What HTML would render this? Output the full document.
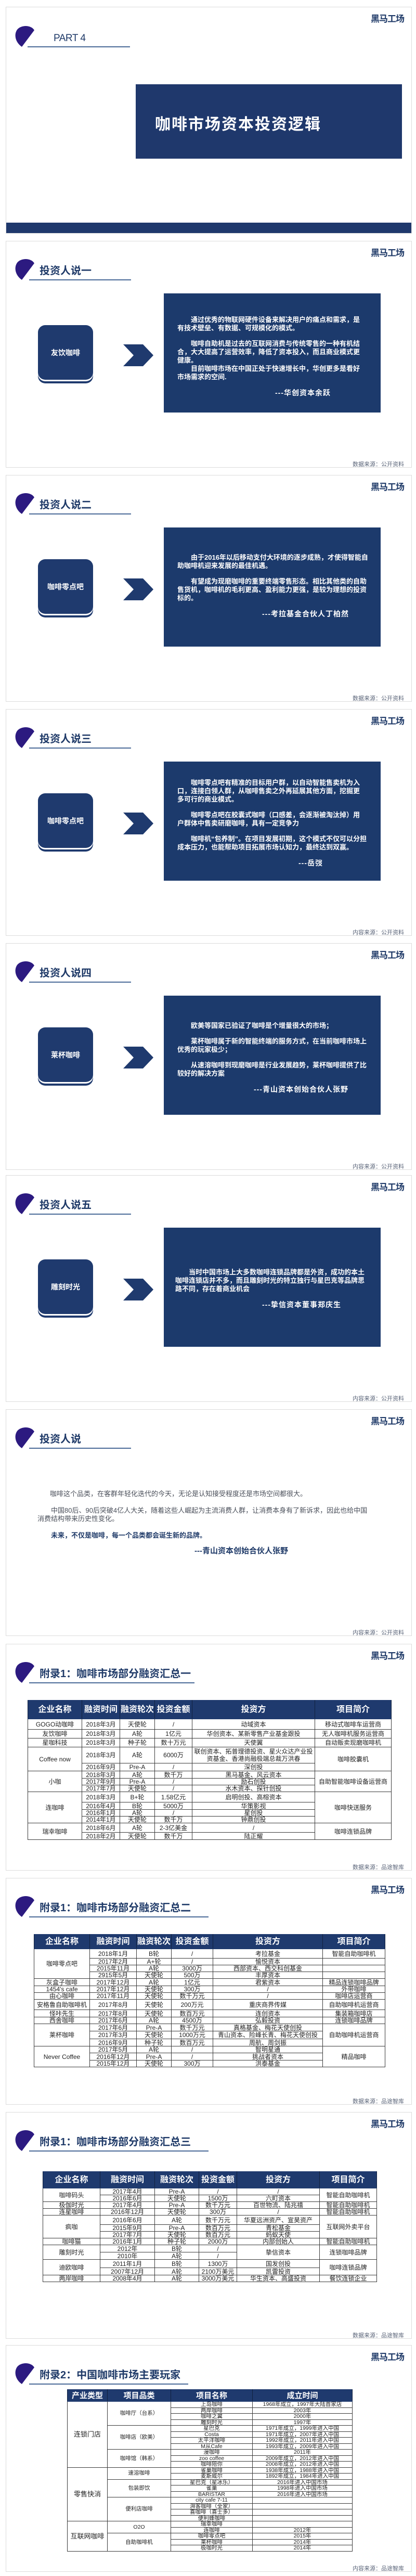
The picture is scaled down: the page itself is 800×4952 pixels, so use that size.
<!DOCTYPE html>
<html><head><meta charset="utf-8">
<style>
*{margin:0;padding:0;box-sizing:border-box}
body{width:800px;height:4952px;position:relative;background:#fff;font-family:"Liberation Sans","Noto Sans CJK SC",sans-serif;overflow:hidden}
.slide{position:absolute;left:11px;width:781px;height:436px;border:1px solid #dcdcdc;background:#fff;overflow:hidden}
.logo{position:absolute;right:14px;top:8px;font-size:17px;font-weight:bold;color:#1f3a68;letter-spacing:-1px}
.drop{position:absolute;left:15px;top:33px;width:40px;height:41px}
.htitle{position:absolute;left:64px;top:44px;font-size:20px;font-weight:bold;color:#1f3a68;line-height:26px;white-space:nowrap}
.hline{position:absolute;left:44px;top:73px;height:2px;background:#4a6a98}
.src{position:absolute;right:14px;top:420px;font-size:11px;color:#5a6478}
.rbox{position:absolute;left:61px;top:161px;width:106px;height:105px;background:#1f3a6e;border-radius:14px;box-shadow:0 3px 0 #fff,0 7px 0 #1f3a6e;color:#fff;font-size:14px;font-weight:bold;display:flex;align-items:center;justify-content:center}
.chev{position:absolute;left:225px;top:198px}
.quote{position:absolute;left:303px;top:100px;width:417px;height:229px;background:#1c3a6c;color:#fff;font-size:13px;font-weight:bold;line-height:16px;padding-left:26px;white-space:nowrap}
.quote p{margin-bottom:14px}
.quote .i{display:inline-block;width:26px}
.att{font-size:14px;letter-spacing:1px}
table{position:absolute;border-collapse:collapse;table-layout:fixed;font-size:12px;color:#222}
td,th{border:1px solid #3a3a3a;padding:0;text-align:center;line-height:1;white-space:nowrap;overflow:hidden}
th{background:#1f3a6e;color:#fff;font-weight:bold;font-size:16px;border-color:#1f3a6e #10203e}
</style></head><body>

<!-- Slide 1 -->
<div class="slide" style="top:13px">
<div class="logo">黑马工场</div>
<svg class="drop" style="top:35px" viewBox="0 0 40 41"><path d="M15 41 C3 33 -1 18 6 8 C13 -1 32 -2 39 9 Z" fill="#2c1a80"/></svg>
<div style="position:absolute;left:91px;top:49px;font-size:19px;color:#1f3a68;letter-spacing:-0.5px">PART 4</div>
<div class="hline" style="left:41px;top:75px;width:197px"></div>
<div style="position:absolute;left:249px;top:148px;width:512px;height:143px;background:#1f386c;color:#fff;font-size:30px;font-weight:bold;letter-spacing:2px;padding:52px 0 0 37px;white-space:nowrap">咖啡市场资本投资逻辑</div>
<div style="position:absolute;left:0;top:414px;width:781px;height:22px;background:#1f386c"></div>
</div>

<!-- Slide 2 -->
<div class="slide" style="top:463px">
<div class="logo">黑马工场</div>
<svg class="drop" viewBox="0 0 40 41"><path d="M15 41 C3 33 -1 18 6 8 C13 -1 32 -2 39 9 Z" fill="#2c1a80"/></svg>
<div class="htitle">投资人说一</div>
<div class="hline" style="width:196px"></div>
<div class="rbox">友饮咖啡</div>
<svg class="chev" width="58" height="42"><polygon points="0,0 38,0 58,21 38,42 0,42 20,21" fill="#1f3a6e"/></svg>
<div class="quote" style="padding-top:43px">
<p><span class="i"></span>通过优秀的物联网硬件设备来解决用户的痛点和需求，是<br>有技术壁垒、有数据、可规模化的模式。</p>
<p style="margin-bottom:0"><span class="i"></span>咖啡自助机是过去的互联网消费与传统零售的一种有机结<br>合，大大提高了运营效率，降低了资本投入，而且商业模式更<br>健康。<br><span class="i"></span>目前咖啡市场在中国正处于快速增长中，华创更多是看好<br>市场需求的空间.</p>
<div class="att" style="margin:14px 0 0 188px">---华创资本余跃</div>
</div>
<div class="src">数据来源：公开资料</div>
</div>

<!-- Slide 3 -->
<div class="slide" style="top:913px">
<div class="logo">黑马工场</div>
<svg class="drop" viewBox="0 0 40 41"><path d="M15 41 C3 33 -1 18 6 8 C13 -1 32 -2 39 9 Z" fill="#2c1a80"/></svg>
<div class="htitle">投资人说二</div>
<div class="hline" style="width:196px"></div>
<div class="rbox">咖啡零点吧</div>
<svg class="chev" width="58" height="42"><polygon points="0,0 38,0 58,21 38,42 0,42 20,21" fill="#1f3a6e"/></svg>
<div class="quote" style="padding-top:50px">
<p><span class="i"></span>由于2016年以后移动支付大环境的逐步成熟，才使得智能自<br>助咖啡机迎来发展的最佳机遇。</p>
<p><span class="i"></span>有望成为现磨咖啡的重要终端零售形态。相比其他类的自助<br>售货机，咖啡机的毛利更高、盈利能力更强，是较为理想的投资<br>标的。</p>
<div class="att" style="margin:0 0 0 163px">---考拉基金合伙人丁柏然</div>
</div>
<div class="src">数据来源：公开资料</div>
</div>

<!-- Slide 4 -->
<div class="slide" style="top:1363px">
<div class="logo">黑马工场</div>
<svg class="drop" viewBox="0 0 40 41"><path d="M15 41 C3 33 -1 18 6 8 C13 -1 32 -2 39 9 Z" fill="#2c1a80"/></svg>
<div class="htitle">投资人说三</div>
<div class="hline" style="width:196px"></div>
<div class="rbox">咖啡零点吧</div>
<svg class="chev" width="58" height="42"><polygon points="0,0 38,0 58,21 38,42 0,42 20,21" fill="#1f3a6e"/></svg>
<div class="quote" style="padding-top:33px">
<p><span class="i"></span>咖啡零点吧有精准的目标用户群，以自动智能售卖机为入<br>口，连接白领人群，从咖啡售卖之外再延展其他方面，挖掘更<br>多可行的商业模式。</p>
<p><span class="i"></span>咖啡零点吧在胶囊式咖啡（口感差，会逐渐被淘汰掉）用<br>户群体中售卖研磨咖啡，具有一定竞争力</p>
<p><span class="i"></span>咖啡机“包养制”。在项目发展初期，这个模式不仅可以分担<br>成本压力，也能帮助项目拓展市场认知力，最终达到双赢。</p>
<div class="att" style="margin:0 0 0 233px">---岳弢</div>
</div>
<div class="src">内容来源：公开资料</div>
</div>

<!-- Slide 5 -->
<div class="slide" style="top:1813px">
<div class="logo">黑马工场</div>
<svg class="drop" viewBox="0 0 40 41"><path d="M15 41 C3 33 -1 18 6 8 C13 -1 32 -2 39 9 Z" fill="#2c1a80"/></svg>
<div class="htitle">投资人说四</div>
<div class="hline" style="width:196px"></div>
<div class="rbox">莱杯咖啡</div>
<svg class="chev" width="58" height="42"><polygon points="0,0 38,0 58,21 38,42 0,42 20,21" fill="#1f3a6e"/></svg>
<div class="quote" style="padding-top:50px">
<p><span class="i"></span>欧美等国家已验证了咖啡是个增量很大的市场；</p>
<p><span class="i"></span>莱杯咖啡属于新的智能终端的服务方式，在当前咖啡市场上<br>优秀的玩家极少；</p>
<p><span class="i"></span>从速溶咖啡到现磨咖啡是行业发展趋势，莱杯咖啡提供了比<br>较好的解决方案</p>
<div class="att" style="margin:0 0 0 147px">---青山资本创始合伙人张野</div>
</div>
<div class="src">内容来源：公开资料</div>
</div>

<!-- Slide 6 -->
<div class="slide" style="top:2259px">
<div class="logo">黑马工场</div>
<svg class="drop" viewBox="0 0 40 41"><path d="M15 41 C3 33 -1 18 6 8 C13 -1 32 -2 39 9 Z" fill="#2c1a80"/></svg>
<div class="htitle">投资人说五</div>
<div class="hline" style="width:196px"></div>
<div class="rbox">雕刻时光</div>
<svg class="chev" width="58" height="42"><polygon points="0,0 38,0 58,21 38,42 0,42 20,21" fill="#1f3a6e"/></svg>
<div class="quote" style="padding-top:78px;padding-left:22px">
<p><span class="i"></span>当时中国市场上大多数咖啡连锁品牌都是外资，成功的本土<br>咖啡连锁店并不多，而且雕刻时光的特立独行与星巴克等品牌思<br>路不同，存在着商业机会</p>
<div class="att" style="margin:0 0 0 167px">---挚信资本董事郑庆生</div>
</div>
<div class="src">内容来源：公开资料</div>
</div>

<!-- Slide 7 -->
<div class="slide" style="top:2709px">
<div class="logo">黑马工场</div>
<svg class="drop" viewBox="0 0 40 41"><path d="M15 41 C3 33 -1 18 6 8 C13 -1 32 -2 39 9 Z" fill="#2c1a80"/></svg>
<div class="htitle">投资人说</div>
<div class="hline" style="width:196px"></div>
<div style="position:absolute;left:60px;top:154px;font-size:13px;line-height:16px;color:#4a4f5a;white-space:nowrap">
<div style="padding-left:24px">咖啡这个品类，在客群年轻化迭代的今天，无论是认知接受程度还是市场空间都很大。</div>
<div style="padding-left:26px;margin-top:16px">中国80后、90后突破4亿人大关，随着这些人崛起为主流消费人群，让消费本身有了新诉求，因此也给中国</div>
<div>消费结构带来历史性变化。</div>
<div style="padding-left:26px;margin-top:16px;font-weight:bold;color:#1f3a68">未来，不仅是咖啡，每一个品类都会诞生新的品牌。</div>
<div style="padding-left:302px;margin-top:14px;font-weight:bold;color:#1f3a68;font-size:15px">---青山资本创始合伙人张野</div>
</div>
<div class="src">内容来源：公开资料</div>
</div>

<!-- Slide 8 -->
<div class="slide" style="top:3160px">
<div class="logo">黑马工场</div>
<svg class="drop" viewBox="0 0 40 41"><path d="M15 41 C3 33 -1 18 6 8 C13 -1 32 -2 39 9 Z" fill="#2c1a80"/></svg>
<div class="htitle">附录1：咖啡市场部分融资汇总一</div>
<div class="hline" style="width:318px"></div>
<table style="left:41px;top:107px;width:699px">
<colgroup><col style="width:104px"><col style="width:73px"><col style="width:67px"><col style="width:72px"><col style="width:236px"><col style="width:147px"></colgroup>
<tr style="height:36px"><th>企业名称</th><th>融资时间</th><th>融资轮次</th><th>投资金额</th><th>投资方</th><th>项目简介</th></tr>
<tr style="height:20px"><td>GOGO动咖啡</td><td>2018年3月</td><td>天使轮</td><td>/</td><td>动域资本</td><td>移动式咖啡车运营商</td></tr>
<tr style="height:17px"><td>友饮咖啡</td><td>2018年3月</td><td>A轮</td><td>1亿元</td><td>华创资本、某新零售产业基金跟投</td><td>无人咖啡机服务运营商</td></tr>
<tr style="height:17px"><td>星咖科技</td><td>2018年3月</td><td>种子轮</td><td>数十万元</td><td>天使翼</td><td>自动贩卖现磨咖啡机</td></tr>
<tr style="height:31px"><td rowspan="2">Coffee now</td><td>2018年3月</td><td>A轮</td><td>6000万</td><td style="white-space:normal;line-height:14px">联创资本、拓普理德投资、星火众达产业投资基金、香港尚融极端总裁万洪春</td><td rowspan="2">咖啡胶囊机</td></tr>
<tr style="height:15px"><td>2016年9月</td><td>Pre-A</td><td>/</td><td>深创投</td></tr>
<tr style="height:14px"><td rowspan="3">小咖</td><td>2018年3月</td><td>A轮</td><td>数千万</td><td>黑马基金、风云资本</td><td rowspan="3">自助智能咖啡设备运营商</td></tr>
<tr style="height:13px"><td>2017年9月</td><td>Pre-A</td><td>/</td><td>励石创投</td></tr>
<tr style="height:13px"><td>2017年7月</td><td>天使轮</td><td>/</td><td>水木资本、探针创投</td></tr>
<tr style="height:20px"><td rowspan="4">连咖啡</td><td>2018年3月</td><td>B+轮</td><td>1.58亿元</td><td>启明创投、高榕资本</td><td rowspan="4">咖啡快送服务</td></tr>
<tr style="height:14px"><td>2016年4月</td><td>B轮</td><td>5000万</td><td>华策影视</td></tr>
<tr style="height:13px"><td>2016年1月</td><td>A轮</td><td>/</td><td>星创投</td></tr>
<tr style="height:12px"><td>2014年1月</td><td>天使轮</td><td>数千万</td><td>钟鼎创投</td></tr>
<tr style="height:18px"><td rowspan="2">瑞幸咖啡</td><td>2018年6月</td><td>A轮</td><td>2-3亿美金</td><td>/</td><td rowspan="2">咖啡连锁品牌</td></tr>
<tr style="height:14px"><td>2018年2月</td><td>天使轮</td><td>数千万</td><td>陆正耀</td></tr>
</table>
<div class="src">数据来源：品途智库</div>
</div>

<!-- Slide 9 -->
<div class="slide" style="top:3610px">
<div class="logo">黑马工场</div>
<svg class="drop" viewBox="0 0 40 41"><path d="M15 41 C3 33 -1 18 6 8 C13 -1 32 -2 39 9 Z" fill="#2c1a80"/></svg>
<div class="htitle">附录1：咖啡市场部分融资汇总二</div>
<div class="hline" style="width:345px"></div>
<table style="left:53px;top:107px;width:675px">
<colgroup><col style="width:107px"><col style="width:90px"><col style="width:67px"><col style="width:80px"><col style="width:211px"><col style="width:120px"></colgroup>
<tr style="height:28px"><th>企业名称</th><th>融资时间</th><th>融资轮次</th><th>投资金额</th><th>投资方</th><th>项目简介</th></tr>
<tr style="height:18px"><td rowspan="4">咖啡零点吧</td><td>2018年1月</td><td>B轮</td><td>/</td><td>考拉基金</td><td>智能自助咖啡机</td></tr>
<tr style="height:13px"><td>2017年2月</td><td>A+轮</td><td>/</td><td>愉悦资本</td><td></td></tr>
<tr style="height:13px"><td>2015年11月</td><td>A轮</td><td>3000万</td><td>西部资本、西交科创基金</td><td></td></tr>
<tr style="height:13px"><td>2915年5月</td><td>天使轮</td><td>500万</td><td>丰厚资本</td><td></td></tr>
<tr style="height:14px"><td>灰盒子咖啡</td><td>2017年12月</td><td>A轮</td><td>1亿元</td><td>君紫资本</td><td>精品连锁咖啡品牌</td></tr>
<tr style="height:13px"><td>1454's cafe</td><td>2017年12月</td><td>天使轮</td><td>300万</td><td>/</td><td>外带咖啡</td></tr>
<tr style="height:13px"><td>由心咖啡</td><td>2017年11月</td><td>天使轮</td><td>数千万元</td><td>/</td><td>咖啡店运营商</td></tr>
<tr style="height:20px"><td>安格鲁自助咖啡机</td><td>2017年8月</td><td>天使轮</td><td>200万元</td><td>重庆商界传媒</td><td>自助咖啡机运营商</td></tr>
<tr style="height:14px"><td>怪咔先生</td><td>2017年8月</td><td>天使轮</td><td>数百万元</td><td>连创资本</td><td>集装箱咖啡店</td></tr>
<tr style="height:12px"><td>西舍咖啡</td><td>2017年6月</td><td>A轮</td><td>4500万</td><td>弘毅投资</td><td>连锁咖啡品牌</td></tr>
<tr style="height:14px"><td rowspan="3">莱杯咖啡</td><td>2017年6月</td><td>Pre-A</td><td>数千万元</td><td>真格基金、梅花天使创投</td><td rowspan="3">自助咖啡机运营商</td></tr>
<tr style="height:15px"><td>2017年3月</td><td>天使轮</td><td>1000万元</td><td>青山资本、险峰长青、梅花天使创投</td></tr>
<tr style="height:14px"><td>2016年9月</td><td>种子轮</td><td>数百万元</td><td>周航、周剑振</td></tr>
<tr style="height:13px"><td rowspan="3">Never Coffee</td><td>2017年5月</td><td>A轮</td><td>/</td><td>智明星通</td><td rowspan="3">精品咖啡</td></tr>
<tr style="height:14px"><td>2016年12月</td><td>Pre-A</td><td>/</td><td>挑战者资本</td></tr>
<tr style="height:13px"><td>2015年12月</td><td>天使轮</td><td>300万</td><td>洪泰基金</td></tr>
</table>
<div class="src">数据来源：品途智库</div>
</div>

<!-- Slide 10 -->
<div class="slide" style="top:4060px">
<div class="logo">黑马工场</div>
<svg class="drop" viewBox="0 0 40 41"><path d="M15 41 C3 33 -1 18 6 8 C13 -1 32 -2 39 9 Z" fill="#2c1a80"/></svg>
<div class="htitle">附录1：咖啡市场部分融资汇总三</div>
<div class="hline" style="width:345px"></div>
<table style="left:70px;top:113px;width:642px">
<colgroup><col style="width:110px"><col style="width:105px"><col style="width:85px"><col style="width:73px"><col style="width:159px"><col style="width:110px"></colgroup>
<tr style="height:32px"><th>企业名称</th><th>融资时间</th><th>融资轮次</th><th>投资金额</th><th>投资方</th><th>项目简介</th></tr>
<tr style="height:13px"><td rowspan="2">咖啡码头</td><td>2017年4月</td><td>Pre-A</td><td>/</td><td>/</td><td rowspan="2">智能自助咖啡机</td></tr>
<tr style="height:13px"><td>2016年6月</td><td>天使轮</td><td>1500万</td><td>六町资本</td></tr>
<tr style="height:13px"><td>极伽时光</td><td>2017年4月</td><td>Pre-A</td><td>数千万元</td><td>百世物流、陆兆禧</td><td>智能自助咖啡机</td></tr>
<tr style="height:13px"><td>连星咖啡</td><td>2016年12月</td><td>天使轮</td><td>300万</td><td>/</td><td>智能自助咖啡机</td></tr>
<tr style="height:18px"><td rowspan="3">疯咖</td><td>2016年6月</td><td>A轮</td><td>数千万元</td><td>华夏远洲资产、宣昊资产</td><td rowspan="3">互联网外卖平台</td></tr>
<tr style="height:13px"><td>2015年9月</td><td>Pre-A</td><td>数百万元</td><td>青松基金</td></tr>
<tr style="height:13px"><td>2017年7月</td><td>天使轮</td><td>数百万元</td><td>蚂蚁天使</td></tr>
<tr style="height:13px"><td>咖啡猫</td><td>2016年1月</td><td>种子轮</td><td>2000万</td><td>内部创始人</td><td>智能自助咖啡机</td></tr>
<tr style="height:14px"><td rowspan="2">雕刻时光</td><td>2012年</td><td>B轮</td><td>/</td><td rowspan="2">挚信资本</td><td rowspan="2">连锁咖啡品牌</td></tr>
<tr style="height:14px"><td>2010年</td><td>A轮</td><td>/</td></tr>
<tr style="height:16px"><td rowspan="2">迪欧咖啡</td><td>2011年1月</td><td>B轮</td><td>1300万</td><td>国发创投</td><td rowspan="2">咖啡连锁品牌</td></tr>
<tr style="height:14px"><td>2007年12月</td><td>A轮</td><td>2100万美元</td><td>凯雷投资</td></tr>
<tr style="height:12px"><td>两岸咖啡</td><td>2008年4月</td><td>A轮</td><td>3000万美元</td><td>华生资本、高盛投资</td><td>餐饮连锁企业</td></tr>
</table>
<div class="src">数据来源：品途智库</div>
</div>

<!-- Slide 11 -->
<div class="slide" style="top:4508px">
<div class="logo">黑马工场</div>
<svg class="drop" viewBox="0 0 40 41"><path d="M15 41 C3 33 -1 18 6 8 C13 -1 32 -2 39 9 Z" fill="#2c1a80"/></svg>
<div class="htitle">附录2：中国咖啡市场主要玩家</div>
<div class="hline" style="width:306px"></div>
<table style="left:117px;top:84px;width:548px;font-size:10.5px">
<colgroup><col style="width:77px"><col style="width:122px"><col style="width:157px"><col style="width:192px"></colgroup>
<tr style="height:23px"><th style="font-size:15px">产业类型</th><th style="font-size:15px">项目品类</th><th style="font-size:15px">项目名称</th><th style="font-size:15px">成立时间</th></tr>
<tr style="height:11.5px"><td rowspan="11" style="font-size:13px">连锁门店</td><td rowspan="4">咖啡厅（台系）</td><td>上岛咖啡</td><td>1968年成立，1997年大陆首家店</td></tr>
<tr style="height:11.5px"><td>两岸咖啡</td><td>2003年</td></tr>
<tr style="height:11.5px"><td>咖啡之翼</td><td>2000年</td></tr>
<tr style="height:11.5px"><td>雕刻时光</td><td>1997年</td></tr>
<tr style="height:11.5px"><td rowspan="4">咖啡店（欧美）</td><td>星巴克</td><td>1971年成立，1999年进入中国</td></tr>
<tr style="height:11.5px"><td>Costa</td><td>1971年成立，2007年进入中国</td></tr>
<tr style="height:11.5px"><td>太平洋咖啡</td><td>1992年成立，2011年进入中国</td></tr>
<tr style="height:11.5px"><td>M从Cafe</td><td>1993年成立，2009年进入中国</td></tr>
<tr style="height:11.5px"><td rowspan="3">咖啡馆（韩系）</td><td>漫咖啡</td><td>2011年</td></tr>
<tr style="height:11.5px"><td>zoo coffee</td><td>2009年成立，2012年进入中国</td></tr>
<tr style="height:11.5px"><td>咖啡陪你</td><td>2008年成立，2012年进入中国</td></tr>
<tr style="height:11.5px"><td rowspan="9" style="font-size:13px">零售快消</td><td rowspan="2">速溶咖啡</td><td>雀巢咖啡</td><td>1938年成立，1988年进入中国</td></tr>
<tr style="height:11.5px"><td>麦斯威尔</td><td>1892年成立，1984年进入中国</td></tr>
<tr style="height:11.5px"><td rowspan="3">包装即饮</td><td>星巴克（星冰乐）</td><td>2016年进入中国市场</td></tr>
<tr style="height:11.5px"><td>雀巢</td><td>1998年进入中国市场</td></tr>
<tr style="height:11.5px"><td>BARISTAR</td><td>2016年进入中国市场</td></tr>
<tr style="height:11.5px"><td rowspan="4">便利店咖啡</td><td>city cafe 7-11</td><td></td></tr>
<tr style="height:11.5px"><td>湃客咖啡（全家）</td><td></td></tr>
<tr style="height:11.5px"><td>喜咖啡（喜士多）</td><td></td></tr>
<tr style="height:11.5px"><td>便利蜂咖啡</td><td></td></tr>
<tr style="height:11.5px"><td rowspan="5" style="font-size:13px">互联网咖啡</td><td rowspan="2">O2O</td><td>瑞幸咖啡</td><td></td></tr>
<tr style="height:11.5px"><td>连咖啡</td><td>2012年</td></tr>
<tr style="height:11.5px"><td rowspan="3">自助咖啡机</td><td>咖啡零点吧</td><td>2015年</td></tr>
<tr style="height:11.5px"><td>莱杯咖啡</td><td>2014年</td></tr>
<tr style="height:11.5px"><td>极咖时光</td><td>2014年</td></tr>
</table>
<div class="src">内容来源：品途智库</div>
</div>

</body></html>
